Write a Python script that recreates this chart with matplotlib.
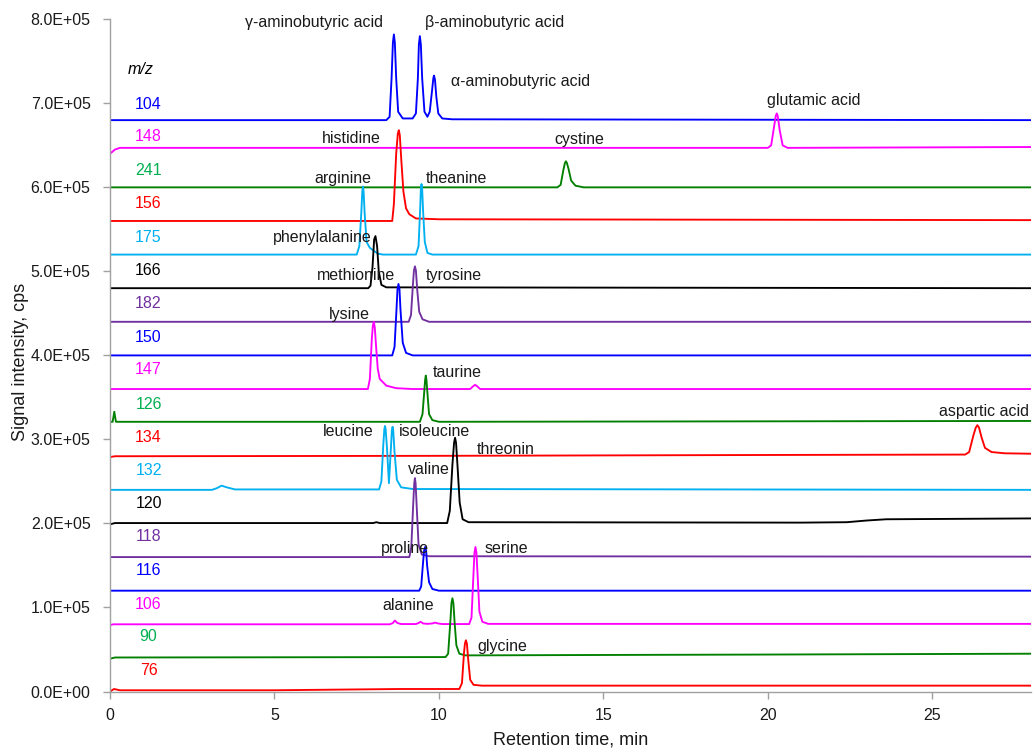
import matplotlib
matplotlib.use('Agg')
import matplotlib.pyplot as plt
from matplotlib.ticker import FuncFormatter, MultipleLocator

plt.rcParams['font.family'] = ['Liberation Sans', 'DejaVu Sans']

# ---- chromatogram traces (time in min, signal in kcps) ----
t_104 = [0, 8.4, 8.5, 8.56, 8.6, 8.63, 8.66, 8.7, 8.76, 8.9, 9.2, 9.3, 9.36, 9.39, 9.42, 9.45, 9.49, 9.56, 9.65, 9.72, 9.79, 9.83, 9.85, 9.88, 9.92, 9.98, 10.1, 10.4, 28]
s_104 = [680, 680, 684, 730, 772, 782, 772, 730, 690, 682, 682, 688, 730, 770, 780, 770, 730, 690, 684, 690, 715, 730, 733, 728, 708, 688, 682, 681, 680]

t_148 = [0, 0.15, 0.3, 20.0, 20.1, 20.18, 20.24, 20.27, 20.3, 20.36, 20.45, 20.6, 28]
s_148 = [640, 645, 647, 647, 650, 670, 685, 688, 685, 668, 650, 647, 648]

t_241 = [0, 13.6, 13.7, 13.78, 13.83, 13.86, 13.89, 13.94, 14.02, 14.15, 14.4, 28]
s_241 = [600, 600, 603, 620, 629, 631, 629, 622, 608, 602, 600, 600]

t_156 = [0, 8.58, 8.63, 8.7, 8.75, 8.78, 8.81, 8.86, 8.92, 9.0, 9.1, 9.3, 10, 28]
s_156 = [560, 560, 580, 640, 664, 668, 662, 630, 595, 575, 568, 563, 562, 561]

t_175 = [0, 7.5, 7.58, 7.64, 7.67, 7.69, 7.71, 7.74, 7.8, 7.9, 8.0, 8.15, 8.3, 9.3, 9.38, 9.43, 9.45, 9.47, 9.49, 9.52, 9.57, 9.65, 9.8, 28]
s_175 = [520, 520, 530, 570, 595, 601, 595, 570, 535, 528, 525, 521, 520, 520, 530, 575, 598, 604, 598, 570, 535, 522, 520, 520]

t_166 = [0, 7.85, 7.92, 7.98, 8.03, 8.07, 8.12, 8.17, 8.25, 8.4, 28]
s_166 = [480, 480, 483, 505, 538, 542, 530, 500, 484, 481, 480]

t_182 = [0, 9.08, 9.15, 9.21, 9.24, 9.27, 9.3, 9.34, 9.4, 9.5, 9.7, 28]
s_182 = [440, 440, 448, 485, 501, 506, 501, 478, 452, 443, 440, 440]

t_150 = [0, 8.58, 8.65, 8.71, 8.74, 8.77, 8.8, 8.83, 8.9, 9.0, 9.2, 28]
s_150 = [400, 400, 410, 455, 479, 485, 479, 455, 415, 403, 400, 400]

t_147 = [0, 7.84, 7.9, 7.96, 7.99, 8.02, 8.05, 8.09, 8.14, 8.2, 8.4, 8.7, 9.2, 10.95, 11.03, 11.1, 11.17, 11.25, 28]
s_147 = [360, 360, 372, 420, 435, 440, 433, 410, 384, 372, 364, 361, 360, 360, 363, 365, 363, 360, 360]

t_126 = [0, 0.08, 0.13, 0.18, 0.3, 9.42, 9.5, 9.55, 9.58, 9.6, 9.62, 9.65, 9.7, 9.8, 10.0, 28]
s_126 = [321, 321, 333, 321, 321, 321, 330, 355, 371, 376, 371, 355, 330, 323, 321, 322]

t_134 = [0, 0.15, 10, 20, 26.0, 26.12, 26.25, 26.32, 26.37, 26.42, 26.5, 26.6, 26.8, 27.2, 28]
s_134 = [279, 280, 280.5, 281.5, 282, 285, 305, 314, 317, 314, 302, 290, 285, 283.5, 283]

t_132 = [0, 3.1, 3.25, 3.39, 3.55, 3.8, 8.18, 8.25, 8.31, 8.34, 8.36, 8.38, 8.42, 8.48, 8.54, 8.57, 8.59, 8.61, 8.65, 8.72, 8.85, 9.2, 28]
s_132 = [240, 240, 242, 245, 243, 240.5, 240.5, 250, 295, 312, 316, 312, 290, 248, 290, 311, 315, 311, 285, 252, 243, 241, 240]

t_120 = [0, 0.15, 8.0, 8.1, 8.2, 10.25, 10.33, 10.41, 10.46, 10.49, 10.52, 10.57, 10.63, 10.72, 10.9, 21, 22.4, 23.0, 23.6, 28]
s_120 = [199, 200.5, 200.5, 201.5, 200.5, 200.5, 215, 270, 296, 302, 296, 265, 225, 205, 201.5, 201, 201.5, 203.5, 205, 206]

t_118 = [0, 9.1, 9.16, 9.22, 9.25, 9.27, 9.29, 9.33, 9.38, 9.48, 9.7, 28]
s_118 = [160, 160, 172, 225, 248, 254, 248, 215, 175, 163, 161, 160.5]

t_116 = [0, 9.4, 9.46, 9.52, 9.55, 9.58, 9.61, 9.64, 9.7, 9.8, 10.0, 28]
s_116 = [120, 120, 125, 155, 168, 172, 168, 150, 130, 122, 120, 120]

t_106 = [0, 0.1, 8.5, 8.6, 8.66, 8.74, 8.85, 9.3, 9.38, 9.44, 9.52, 9.65, 9.8, 9.88, 9.97, 10.1, 10.92, 10.99, 11.05, 11.08, 11.11, 11.14, 11.18, 11.23, 11.32, 11.5, 28]
s_106 = [79, 80, 80, 81.5, 84.5, 81.5, 80.3, 80.3, 81.5, 83, 81, 80.5, 81, 82, 81, 80.3, 80.3, 88, 140, 165, 172, 165, 135, 95, 83, 80.5, 80.5]

t_90 = [0, 0.15, 10.2, 10.28, 10.35, 10.38, 10.41, 10.44, 10.48, 10.53, 10.62, 10.8, 15, 20, 28]
s_90 = [39, 40.5, 41, 45, 85, 105, 111, 105, 80, 55, 45, 43, 43.5, 44, 45]

t_76 = [0, 0.12, 0.3, 5, 8.8, 10.62, 10.7, 10.76, 10.79, 10.82, 10.85, 10.89, 10.95, 11.05, 11.3, 28]
s_76 = [0, 3, 1.5, 1.5, 3, 3, 10, 45, 57, 61, 57, 38, 14, 8, 7, 7]

mz_names = ['104', '148', '241', '156', '175', '166', '182', '150', '147',
            '126', '134', '132', '120', '118', '116', '106', '90', '76']
mz_label_y = [699, 660, 620, 581, 540, 501, 462, 421, 383,
              342, 302, 263, 224, 184, 144, 104, 65, 25]

compound_names = ['γ-aminobutyric acid', 'β-aminobutyric acid', 'α-aminobutyric acid',
                  'glutamic acid', 'histidine', 'cystine', 'arginine', 'theanine',
                  'phenylalanine', 'methionine', 'tyrosine', 'lysine', 'taurine',
                  'aspartic acid', 'leucine', 'isoleucine', 'threonin', 'valine',
                  'proline', 'serine', 'alanine', 'glycine']
compound_x = [6.21, 11.70, 12.47, 21.41, 7.33, 14.26, 7.07, 10.52,
              6.45, 7.48, 10.45, 7.28, 10.56, 26.58, 7.25, 9.87, 12.04, 9.68,
              8.98, 12.06, 9.05, 11.93]
compound_y = [796, 796, 726, 703, 658, 657, 611, 611,
              540, 495, 495, 449, 380, 333, 310, 310, 288, 264,
              170, 170, 102, 54]

BLUE = '#0000FF'
MAG = '#FF00FF'
GREEN = '#008000'
GREEN_T = '#00B050'
RED = '#FF0000'
CYAN = '#00B0F0'
PURPLE = '#7030A0'
BLACK = '#000000'

traces = [
    (t_104, s_104, BLUE, BLUE),
    (t_148, s_148, MAG, MAG),
    (t_241, s_241, GREEN, GREEN_T),
    (t_156, s_156, RED, RED),
    (t_175, s_175, CYAN, CYAN),
    (t_166, s_166, BLACK, BLACK),
    (t_182, s_182, PURPLE, PURPLE),
    (t_150, s_150, BLUE, BLUE),
    (t_147, s_147, MAG, MAG),
    (t_126, s_126, GREEN, GREEN_T),
    (t_134, s_134, RED, RED),
    (t_132, s_132, CYAN, CYAN),
    (t_120, s_120, BLACK, BLACK),
    (t_118, s_118, PURPLE, PURPLE),
    (t_116, s_116, BLUE, BLUE),
    (t_106, s_106, MAG, MAG),
    (t_90, s_90, GREEN, GREEN_T),
    (t_76, s_76, RED, RED),
]

fig = plt.figure(figsize=(10.34, 7.51), dpi=100)
ax = fig.add_axes([0.1064, 0.0792, 0.8907, 0.8951])

for (t, s, lc, tc), name, ly in zip(traces, mz_names, mz_label_y):
    ax.plot(t, [v * 1000 for v in s], color=lc, lw=1.35, solid_joinstyle='round')
    ax.text(1.17, ly * 1000, name, color=tc, fontsize=11.5, ha='center', va='center')

ax.text(0.93, 740000, 'm/z', fontsize=11.5, style='italic', ha='center', va='center')

for name, x, y in zip(compound_names, compound_x, compound_y):
    ax.text(x, y * 1000, name, fontsize=11.5, ha='center', va='center', color='#1a1a1a')

ax.set_xlim(0, 28)
ax.set_ylim(0, 800000)
ax.xaxis.set_major_locator(MultipleLocator(5))
ax.yaxis.set_major_locator(MultipleLocator(100000))
ax.yaxis.set_major_formatter(FuncFormatter(lambda v, p: format(v, '.1E')))

for side in ['top', 'right']:
    ax.spines[side].set_visible(False)
for side in ['left', 'bottom']:
    ax.spines[side].set_color('#A0A0A0')
    ax.spines[side].set_linewidth(1.0)
ax.tick_params(axis='both', direction='out', length=5, width=1, color='#A0A0A0',
               labelsize=11.5, labelcolor='#1a1a1a')
ax.tick_params(axis='y', pad=9)
ax.tick_params(axis='x', pad=7)

ax.set_xlabel('Retention time, min', fontsize=13, color='#1a1a1a')
ax.set_ylabel('Signal intensity, cps', fontsize=13, color='#1a1a1a')
ax.xaxis.set_label_coords(0.5, -0.059)
ax.yaxis.set_label_coords(-0.088, 0.49)

fig.savefig('out.png', dpi=100)
